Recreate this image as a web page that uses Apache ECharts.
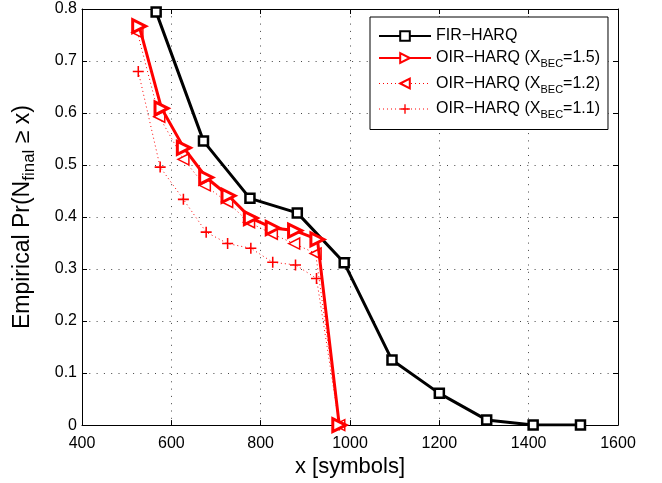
<!DOCTYPE html>
<html>
<head>
<meta charset="utf-8">
<script src="https://cdn.jsdelivr.net/npm/echarts@6/dist/echarts.min.js"></script>
<style>
html,body{margin:0;padding:0;background:#fff;}
#c{width:662px;height:483px;}
</style>
</head>
<body>
<div id="c"></div>
<script>
// ---- data ----
var xTicks = [400, 600, 800, 1000, 1200, 1400, 1600];
var yTicks = [0, 0.1, 0.2, 0.3, 0.4, 0.5, 0.6, 0.7, 0.8];

var firX = [566, 672, 776, 882, 987, 1094, 1200, 1306, 1410, 1516];
var firY = [0.794, 0.546, 0.436, 0.408, 0.312, 0.125, 0.061, 0.010, 0.000, 0.000];

var oir15X = [528, 578, 628, 678, 728, 778, 827, 877, 927, 976];
var oir15Y = [0.767, 0.609, 0.533, 0.476, 0.441, 0.398, 0.379, 0.374, 0.357, 0.000];

var oir12X = [524, 573, 627, 675, 725, 774, 825, 875, 923, 976];
var oir12Y = [0.755, 0.593, 0.511, 0.461, 0.429, 0.390, 0.368, 0.349, 0.330, 0.000];

var oir11X = [526, 575, 627, 678, 726, 778, 827, 878, 925, 976];
var oir11Y = [0.680, 0.496, 0.434, 0.371, 0.349, 0.340, 0.313, 0.308, 0.282, 0.000];

var seriesNames = ['FIR−HARQ', 'OIR−HARQ (X_BEC=1.5)', 'OIR−HARQ (X_BEC=1.2)', 'OIR−HARQ (X_BEC=1.1)'];

function pairs(xs, ys) { return xs.map(function (x, i) { return [x, ys[i]]; }); }

var FONT = '"Liberation Sans", Arial, Helvetica, sans-serif';
var plusPath = 'path://M4.3,0H5.7V4.3H10V5.7H5.7V10H4.3V5.7H0V4.3H4.3Z';
var RED = '#ff0000';

var chart = echarts.init(document.getElementById('c'), null, {renderer: 'canvas'});

var gridLine = {show: true, lineStyle: {color: '#444', width: 1, type: [1, 6.3]}};

var option = {
  backgroundColor: '#fff',
  animation: false,
  textStyle: {fontFamily: FONT},
  grid: {left: 82, right: 44, top: 9, bottom: 51, containLabel: false},
  legend: {
    orient: 'vertical',
    left: 370, top: 17,
    backgroundColor: '#fff',
    borderColor: '#000', borderWidth: 1,
    padding: [11, 8, 9, 8],
    itemWidth: 52, itemHeight: 12, itemGap: 6,
    data: [
      {name: seriesNames[0], lineStyle: {color: '#000'}},
      {name: seriesNames[1], lineStyle: {color: RED}},
      {name: seriesNames[2], lineStyle: {color: RED, width: 1, type: [1, 3]}},
      {name: seriesNames[3], lineStyle: {color: RED, width: 1, type: [1, 3]}}
    ],
    formatter: function (name) {
      var m = name.match(/^(.*)X_BEC(.*)$/);
      if (!m) return '{t0|' + name + '}';
      return '{t|' + m[1] + 'X}{s|BEC}{t|' + m[2] + '}';
    },
    textStyle: {
      fontFamily: FONT, fontSize: 16, color: '#000',
      rich: {
        t0: {fontFamily: FONT, fontSize: 16, color: '#000', lineHeight: 12},
        t: {fontFamily: FONT, fontSize: 16, color: '#000'},
        s: {fontFamily: FONT, fontSize: 11, color: '#000', padding: [12, 0, 0, 0]}
      }
    }
  },
  xAxis: [{
    type: 'value', min: xTicks[0], max: xTicks[xTicks.length - 1], interval: 200,
    position: 'bottom',
    axisLine: {show: true, onZero: false, lineStyle: {color: '#000', width: 1}},
    axisTick: {show: true, inside: true, length: 5, lineStyle: {color: '#000'}},
    axisLabel: {color: '#000', fontSize: 16, fontFamily: FONT, margin: 10,
      formatter: function (v) { return String(v); }},
    splitLine: gridLine,
    name: 'x [symbols]', nameLocation: 'middle', nameGap: 26,
    nameTextStyle: {color: '#000', fontSize: 22, fontFamily: FONT}
  }, {
    type: 'value', min: xTicks[0], max: xTicks[xTicks.length - 1], interval: 200,
    position: 'top',
    axisLine: {show: true, onZero: false, lineStyle: {color: '#000', width: 1}},
    axisTick: {show: true, inside: true, length: 5, lineStyle: {color: '#000'}},
    axisLabel: {show: false},
    splitLine: {show: false}
  }],
  yAxis: [{
    type: 'value', min: yTicks[0], max: yTicks[yTicks.length - 1], interval: 0.1,
    position: 'left',
    axisLine: {show: true, onZero: false, lineStyle: {color: '#000', width: 1}},
    axisTick: {show: true, inside: true, length: 5, lineStyle: {color: '#000'}},
    axisLabel: {color: '#000', fontSize: 16, fontFamily: FONT, margin: 5},
    splitLine: gridLine,
    name: '{t|Empirical Pr(N}{s|final}{t| ≥ x)}',
    nameLocation: 'middle', nameGap: 44, nameRotate: 90,
    nameTextStyle: {
      color: '#000', fontFamily: FONT, fontSize: 23,
      rich: {
        t: {fontFamily: FONT, fontSize: 23, color: '#000'},
        s: {fontFamily: FONT, fontSize: 17, color: '#000', padding: [14, 0, 0, 0]}
      }
    }
  }, {
    type: 'value', min: yTicks[0], max: yTicks[yTicks.length - 1], interval: 0.1,
    position: 'right',
    axisLine: {show: true, onZero: false, lineStyle: {color: '#000', width: 1}},
    axisTick: {show: true, inside: true, length: 5, lineStyle: {color: '#000'}},
    axisLabel: {show: false},
    splitLine: {show: false}
  }],
  series: [{
    name: seriesNames[0], type: 'line', xAxisIndex: 0, yAxisIndex: 0,
    data: pairs(firX, firY),
    symbol: 'rect', symbolSize: 9,
    lineStyle: {color: '#000', width: 3},
    itemStyle: {color: '#fff', borderColor: '#000', borderWidth: 2.5},
    z: 3
  }, {
    name: seriesNames[1], type: 'line', xAxisIndex: 0, yAxisIndex: 0,
    data: pairs(oir15X, oir15Y),
    symbol: 'triangle', symbolSize: 13, symbolRotate: -90,
    lineStyle: {color: RED, width: 3},
    itemStyle: {color: '#fff', borderColor: RED, borderWidth: 3},
    z: 5
  }, {
    name: seriesNames[2], type: 'line', xAxisIndex: 0, yAxisIndex: 0,
    data: pairs(oir12X, oir12Y),
    symbol: 'triangle', symbolSize: 11, symbolRotate: 90,
    lineStyle: {color: RED, width: 1, type: [1, 3]},
    itemStyle: {color: '#fff', borderColor: RED, borderWidth: 1.5},
    z: 4
  }, {
    name: seriesNames[3], type: 'line', xAxisIndex: 0, yAxisIndex: 0,
    data: pairs(oir11X, oir11Y),
    symbol: plusPath, symbolSize: 11,
    lineStyle: {color: RED, width: 1, type: [1, 3]},
    itemStyle: {color: RED, borderWidth: 0},
    z: 4
  }]
};
chart.setOption(option);
</script>
</body>
</html>
